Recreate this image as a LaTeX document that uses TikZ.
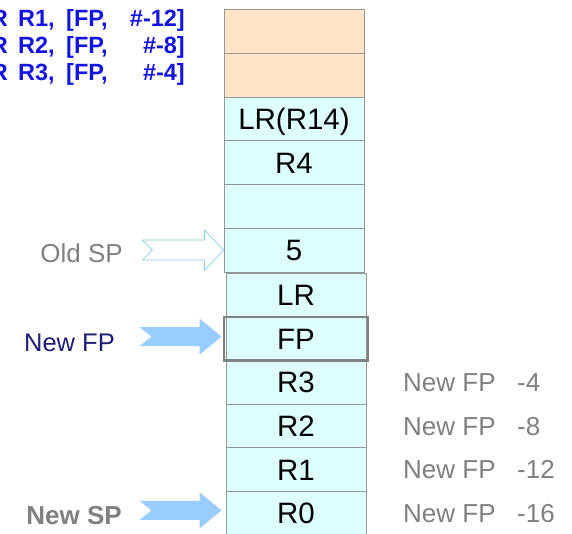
\documentclass[tikz,border=0pt]{standalone}
\usepackage{fontspec}
\setmainfont{Liberation Sans}
\usetikzlibrary{calc}
\definecolor{peach}{RGB}{255,228,198}
\definecolor{lcyan}{RGB}{222,255,255}
\definecolor{cellline}{RGB}{150,150,150}
\definecolor{codeblue}{RGB}{20,20,225}
\definecolor{navy}{RGB}{30,30,115}
\definecolor{lgray}{RGB}{128,128,128}
\definecolor{arrowfill}{RGB}{153,204,255}
\definecolor{arrowline}{RGB}{135,206,235}
\tikzset{
  cell/.style={draw=cellline, line width=0.9pt, minimum width=140pt, minimum height=43.75pt,
    inner sep=0pt, text height=21pt, text depth=0pt, font=\fontsize{29.5}{32}\selectfont},
  peachcell/.style={cell, fill=peach},
  cyancell/.style={cell, fill=lcyan},
  code/.style={inner sep=0pt, text=codeblue, font=\bfseries\fontsize{23.5}{26}\selectfont},
  sidelabel/.style={inner sep=0pt, text=lgray, font=\fontsize{26}{28}\selectfont},
  fparrow/.style={fill=arrowfill, draw=none},
  oldarrow/.style={draw=arrowline, fill=white, line width=0.7pt},
}
\begin{document}
\begin{tikzpicture}[x=1pt, y=-1pt]
\clip (0,0) rectangle (572,534);
\fill[white] (0,0) rectangle (572,534);

% upper column
\node[peachcell] (u1) at (294,31.4) {};
\node[peachcell] (u2) at (294,75.1) {};
\node[cyancell] (u3) at (294,118.9) {LR(R14)};
\node[cyancell] (u4) at (294,162.6) {R4};
\node[cyancell] (u5) at (294,206.4) {};
\node[cyancell] (u6) at (294,250.1) {5};

% lower column
\node[cyancell] (l1) at (296,294.9) {LR};
\node[cyancell] (l2) at (296,338.6) {FP};
\node[cyancell] (l3) at (296,382.3) {R3};
\node[cyancell] (l4) at (296,426.0) {R2};
\node[cyancell] (l5) at (296,469.7) {R1};
\node[cyancell] (l6) at (296,513.4) {R0};
\draw[lgray, line width=2.4pt] ([xshift=-1.5pt,yshift=-0.5pt]l2.north west) rectangle ([xshift=1.5pt,yshift=0.5pt]l2.south east);

% code text
\node[code, anchor=base east] (c1a) at (8,26.7) {R};
\node[code, anchor=base west] (c1b) at (18,26.7) {R1,};
\node[code, anchor=base west] (c1c) at (66,26.7) {[FP,};
\node[code, anchor=base east] (c1d) at (185,26.7) {\#-12]};
\node[code, anchor=base east] (c2a) at (8,53.5) {R};
\node[code, anchor=base west] (c2b) at (18,53.5) {R2,};
\node[code, anchor=base west] (c2c) at (66,53.5) {[FP,};
\node[code, anchor=base east] (c2d) at (185,53.5) {\#-8]};
\node[code, anchor=base east] (c3a) at (8,80.5) {R};
\node[code, anchor=base west] (c3b) at (18,80.5) {R3,};
\node[code, anchor=base west] (c3c) at (66,80.5) {[FP,};
\node[code, anchor=base east] (c3d) at (185,80.5) {\#-4]};

% arrows
\draw[oldarrow] (u6.west) -- ++(-19,-20) -- ++(0,10) -- ++(-62,0) -- ++(10,10)
  -- ++(-10,10) -- ++(62,0) -- ++(0,10) -- cycle;
\fill[fparrow] ([xshift=-4pt,yshift=2pt]l2.west) -- ++(-22,-18) -- ++(0,8.5) -- ++(-60,0) -- ++(12,9.5)
  -- ++(-12,9.5) -- ++(60,0) -- ++(0,8.5) -- cycle;
\fill[fparrow] ([xshift=-4pt,yshift=3pt]l6.west) -- ++(-22,-18) -- ++(0,8.5) -- ++(-60,0) -- ++(12,9.5)
  -- ++(-12,9.5) -- ++(60,0) -- ++(0,8.5) -- cycle;

% left labels
\node[inner sep=0pt, text=lgray, font=\fontsize{26}{28}\selectfont, anchor=base east] (oldsp) at (123,262) {Old SP};
\node[inner sep=0pt, text=navy, font=\fontsize{25.5}{27}\selectfont, anchor=base east] (newfp) at (115,351) {New FP};
\node[inner sep=0pt, text=lgray, font=\bfseries\fontsize{26}{28}\selectfont, anchor=base east] (newsp) at (122,524) {New SP};

% right labels
\node[sidelabel, anchor=base west] (r3a) at (403,391) {New FP};
\node[sidelabel, anchor=base west] (r3b) at (517,391) {-4};
\node[sidelabel, anchor=base west] (r2a) at (403,435) {New FP};
\node[sidelabel, anchor=base west] (r2b) at (517,435) {-8};
\node[sidelabel, anchor=base west] (r1a) at (403,478.5) {New FP};
\node[sidelabel, anchor=base west] (r1b) at (517,478.5) {-12};
\node[sidelabel, anchor=base west] (r0a) at (403,522.5) {New FP};
\node[sidelabel, anchor=base west] (r0b) at (517,522.5) {-16};
\end{tikzpicture}
\end{document}
